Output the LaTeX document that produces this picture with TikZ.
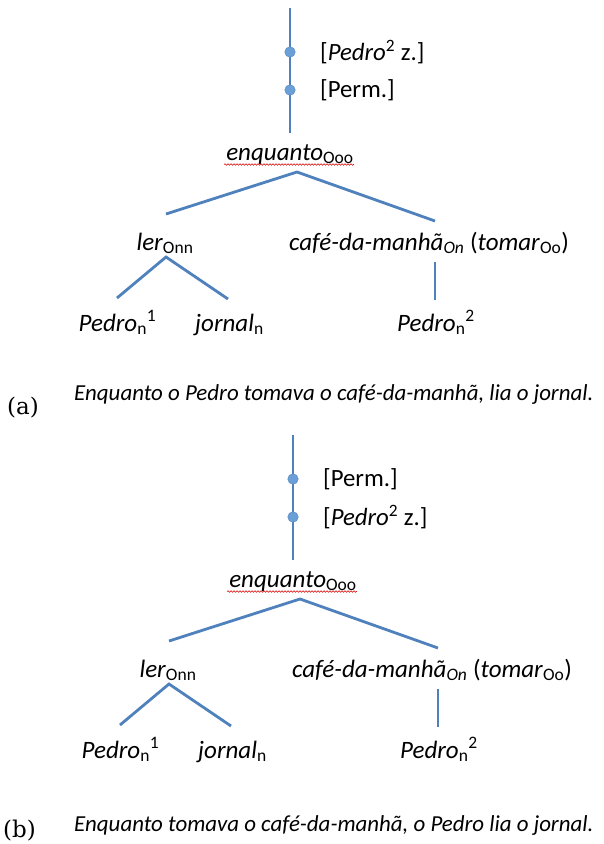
\documentclass[tikz,border=0pt]{standalone}
\usepackage{fontspec}
\newfontfamily\calfont{Carlito}
\newfontfamily\capserif{DejaVu Serif}
\usetikzlibrary{decorations.pathmorphing}
\definecolor{branchblue}{HTML}{4F81BD}
\definecolor{dotblue}{HTML}{6A9FD8}
\newcommand\treelabelsize{\calfont\fontsize{25}{29}\selectfont}
\newcommand\bracketsize{\calfont\fontsize{24.8}{29}\selectfont}
\newcommand\sentsize{\calfont\fontsize{22.9}{27}\selectfont}
\newcommand\captionsize{\capserif\fontsize{23}{27}\selectfont}
\newcommand\mytreepart[2]{%
  \coordinate (vtop) at (290,8);
  \coordinate (vbot) at (290,133);
  \draw[branch] (vtop) -- (vbot);
  \node[knot] (d1) at (290,52) {};
  \node[knot] (d2) at (290,90) {};
  \node[brk] (l1) at (320,52) {#1};
  \node[brk] (l2) at (320,90) {#2};
  \node[lab] (enq) at (290,160) {\textit{enquanto}\textsubscript{Ooo}};
  \draw[wavy] ([xshift=-2pt,yshift=-4.5pt]enq.base west) -- ([yshift=-4.5pt]enq.base east);
  \coordinate (apex) at (297,172);
  \coordinate (lend) at (166,214);
  \coordinate (rend) at (435,221);
  \draw[branch] (lend) -- (apex) -- (rend);
  \node[lab] (ler) at (165,250) {\textit{ler}\textsubscript{Onn}};
  \node[lab] (cafe) at (429,250) {\textit{café-da-manhã}\textsubscript{\textit{On}} (\textit{tomar}\textsubscript{Oo})};
  \coordinate (lapex) at (166,257);
  \coordinate (lleft) at (117,298);
  \coordinate (lright) at (228,299);
  \draw[branch] (lleft) -- (lapex) -- (lright);
  \coordinate (ctop) at (435,262);
  \coordinate (cbot) at (435,300);
  \draw[branch] (ctop) -- (cbot);
  \node[lab] (p1) at (117.5,331) {\textit{Pedro}\textsubscript{n}\textsuperscript{1}};
  \node[lab] (jor) at (229.5,331) {\textit{jornal}\textsubscript{n}};
  \node[lab] (p2) at (436,331) {\textit{Pedro}\textsubscript{n}\textsuperscript{2}};
}
\begin{document}
\begin{tikzpicture}[x=1pt,y=-1pt,
  branch/.style={draw=branchblue, line width=2.8pt},
  knot/.style={circle, fill=dotblue, draw=branchblue, line width=0.4pt, minimum size=10.5pt, inner sep=0pt},
  brk/.style={anchor=west, inner sep=0pt, font=\bracketsize},
  lab/.style={anchor=base, inner sep=0pt, font=\treelabelsize},
  wavy/.style={draw=red!85!black, line width=0.6pt, decorate, decoration={snake, amplitude=0.8pt, segment length=3pt}},
  sent/.style={anchor=base west, inner sep=0pt, font=\sentsize\itshape},
  captext/.style={anchor=base west, inner sep=0pt, font=\captionsize}]
\useasboundingbox (0,0) rectangle (603,844);
\fill[white] (0,0) rectangle (603,844);
\begin{scope}[name prefix=a-]
  \mytreepart{[\textit{Pedro}\textsuperscript{2} z.]}{[Perm.]}
\end{scope}
\node[captext] (capa) at (7,414) {(a)};
\node[sent] (senta) at (74,400) {Enquanto o Pedro tomava o café-da-manhã, lia o jornal.};
\begin{scope}[shift={(3,427)}, name prefix=b-]
  \mytreepart{[Perm.]}{[\textit{Pedro}\textsuperscript{2} z.]}
\end{scope}
\node[captext] (capb) at (3,837) {(b)};
\node[sent] (sentb) at (74,831) {Enquanto tomava o café-da-manhã, o Pedro lia o jornal.};
\end{tikzpicture}
\end{document}
